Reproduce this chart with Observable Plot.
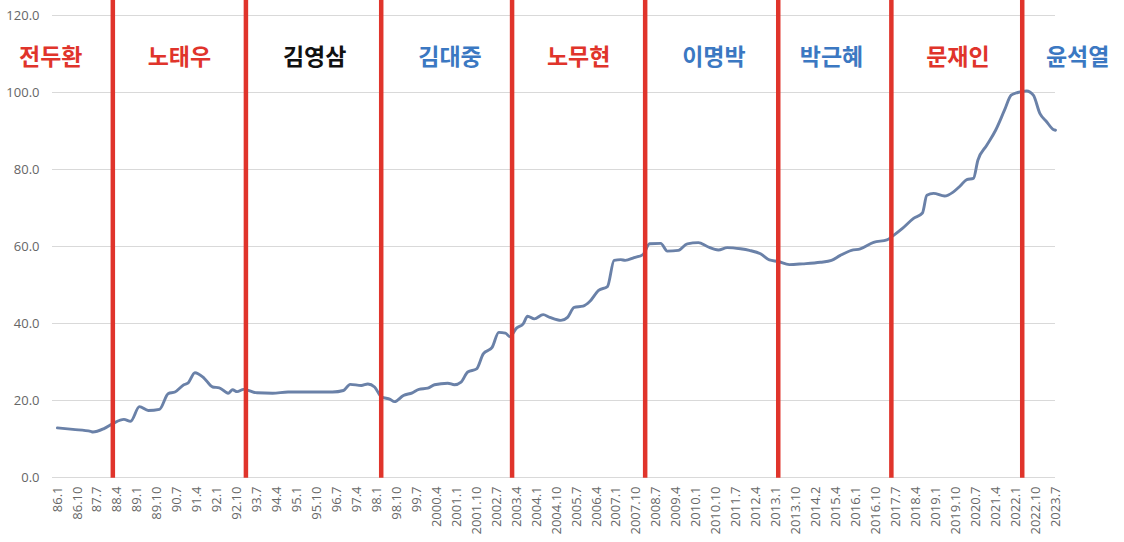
<!DOCTYPE html>
<html>
<head>
<meta charset="utf-8">
<script src="https://cdn.jsdelivr.net/npm/d3@7"></script>
<script src="https://cdn.jsdelivr.net/npm/@observablehq/plot@0.6"></script>
<style>
  html, body { margin: 0; padding: 0; background: #fff; }
  #chart svg { display: block; }
</style>
</head>
<body>
<div id="chart"></div>
<script>
// ---- Data ----
const dates = [
  "1986-01","1986-08","1987-04","1987-05","1987-10","1988-02","1988-07","1988-10","1989-02","1989-06",
  "1989-11","1990-03","1990-06","1990-10","1990-12","1991-03","1991-07","1991-11","1992-02","1992-06",
  "1992-08","1992-10","1993-01","1993-07","1994-02","1994-09","1996-05","1996-10","1997-01","1997-06",
  "1997-09","1997-12","1998-03","1998-07","1998-09","1999-01","1999-05","1999-08","1999-12","2000-03",
  "2000-09","2000-12","2001-03","2001-06","2001-10","2002-01","2002-05","2002-08","2002-11","2003-01",
  "2003-04","2003-07","2003-09","2003-12","2004-04","2004-07","2004-12","2005-03","2005-06","2005-10",
  "2006-01","2006-05","2006-09","2006-12","2007-03","2007-05","2007-09","2008-01","2008-04","2008-09",
  "2008-12","2009-05","2009-09","2010-02","2010-06","2010-11","2011-03","2011-09","2012-01","2012-06",
  "2012-10","2013-02","2013-07","2014-01","2014-09","2015-02","2015-06","2015-11","2016-03","2016-09",
  "2017-03","2017-06","2017-10","2018-03","2018-07","2018-09","2018-12","2019-05","2019-09","2019-12",
  "2020-03","2020-06","2020-08","2020-12","2021-04","2021-08","2021-11","2022-02","2022-06","2022-09",
  "2022-12","2023-03","2023-06","2023-07"
];
const values = [
  12.9,12.5,12.0,11.8,12.7,14.0,15.1,14.6,18.4,17.4,
  17.7,21.8,22.2,24.1,24.6,27.2,25.9,23.5,23.3,21.9,
  22.8,22.3,22.9,22.0,21.9,22.2,22.2,22.6,24.2,23.9,
  24.3,23.5,21.0,20.3,19.7,21.3,22.0,22.9,23.2,24.1,
  24.5,24.1,24.8,27.4,28.2,32.1,33.8,37.7,37.5,36.6,
  38.8,39.9,41.9,41.2,42.3,41.6,40.8,41.6,44.2,44.5,
  45.7,48.6,49.6,56.4,56.6,56.4,57.1,57.9,60.7,60.8,
  58.8,59.0,60.7,61.0,60.0,59.1,59.7,59.4,59.0,58.1,
  56.5,56.1,55.3,55.5,55.9,56.4,57.7,59.0,59.4,61.1,
  61.7,62.9,64.7,67.3,68.7,73.3,73.8,73.1,74.2,75.7,
  77.4,77.7,82.4,86.3,90.2,95.4,99.3,100.0,100.4,99.3,
  94.5,92.4,90.4,90.2
];

// x-axis tick labels (every 9 months from 86.1)
const tickLabels = [
  "86.1","86.10","87.7","88.4","89.1","89.10","90.7","91.4","92.1","92.10",
  "93.7","94.4","95.1","95.10","96.7","97.4","98.1","98.10","99.7","2000.4",
  "2001.1","2001.10","2002.7","2003.4","2004.1","2004.10","2005.7","2006.4","2007.1","2007.10",
  "2008.7","2009.4","2010.1","2010.10","2011.7","2012.4","2013.1","2013.10","2014.2","2015.4",
  "2016.1","2016.10","2017.7","2018.4","2019.1","2019.10","2020.7","2021.4","2022.1","2022.10",
  "2023.7"
];
const yTicks = [0, 20, 40, 60, 80, 100, 120];

// presidents: names, colour group, where each name sits, start of each term
const presidents = ["전두환","노태우","김영삼","김대중","노무현","이명박","박근혜","문재인","윤석열"];
const presidentGroup = ["red","red","black","blue","red","blue","blue","red","blue"];
const labelDates = ["1985-10","1990-08","1995-09","2000-10","2005-08","2010-09","2015-02","2019-11","2024-05"];
const inaugurations = ["1988-02","1993-02","1998-03","2003-02","2008-02","2013-02","2017-05","2022-04"];

// ---- Helpers ----
const START_YEAR = 1986;
const monthIndex = s => { const [y, m] = s.split("-").map(Number); return (y - START_YEAR) * 12 + (m - 1); };

const series = dates.map((d, i) => ({m: monthIndex(d), v: values[i]}));
const tickIdx = tickLabels.map((_, i) => i * 9);
const groupColor = {red: "#e0342b", blue: "#3b78c2", black: "#111111"};
const labels = presidents.map((n, i) => ({m: monthIndex(labelDates[i]), name: n, color: groupColor[presidentGroup[i]]}));
const rules = inaugurations.map(d => ({m: monthIndex(d)}));

const axisFont = "'Open Sans', 'Liberation Sans', 'DejaVu Sans', sans-serif";

const chart = Plot.plot({
  width: 1124,
  height: 542,
  marginLeft: 52,
  marginRight: 69,
  marginTop: 15,
  marginBottom: 65,
  style: {fontFamily: axisFont, background: "#fff", overflow: "visible"},
  x: {domain: [-2.2, 450]},
  y: {domain: [0, 120]},
  marks: [
    Plot.gridY(yTicks, {stroke: "#d9d9d9", strokeOpacity: 1, strokeWidth: 1}),
    Plot.axisY(yTicks, {tickSize: 0, tickPadding: 13, tickFormat: d3.format(".1f"), fontSize: 13, fill: "#666", label: null}),
    Plot.axisX(tickIdx, {tickSize: 0, tickPadding: 9, tickRotate: -90, tickFormat: (d, i) => tickLabels[i], fontSize: 13, fill: "#666", label: null}),
    Plot.line(series, {x: "m", y: "v", stroke: "#6a81a8", strokeWidth: 2.9, curve: "monotone-x"}),
    Plot.ruleX(rules, {x: "m", y1: -0.2, y2: 124, stroke: "#e0342b", strokeWidth: 4.5}),
    ...labels.map(l => Plot.text([l], {
      x: "m", y: () => 109, text: "name", fill: l.color,
      fontSize: 23, fontWeight: "bold",
      fontFamily: "'Noto Sans CJK KR', 'Noto Sans', sans-serif"
    }))
  ]
});
document.getElementById("chart").appendChild(chart);
</script>
</body>
</html>
